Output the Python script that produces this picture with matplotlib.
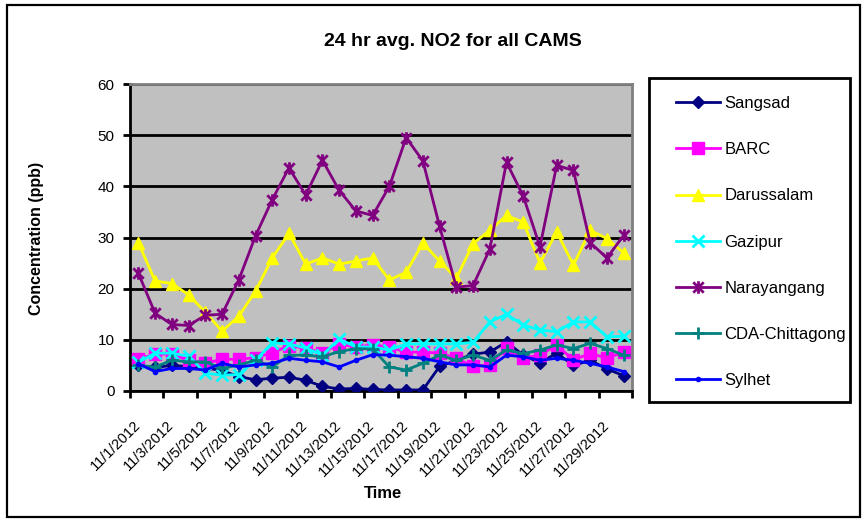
import numpy as np
import matplotlib
matplotlib.use("Agg")
import matplotlib.pyplot as plt
from matplotlib.path import Path
from matplotlib.patches import Rectangle

plt.rcParams['font.family'] = ['Liberation Sans', 'DejaVu Sans']

# ---------------- data ----------------
days = list(range(1, 31))
tick_labels = [f"11/{d}/2012" for d in range(1, 31, 2)]

sangsad = [5.0, 4.6, 5.0, 4.8, 4.5, 4.0, 2.8, 2.2, 2.5, 2.7, 2.1, 0.9, 0.4, 0.5, 0.3,
           0.2, 0.2, 0.2, 4.8, 6.0, 7.2, 7.6, 9.6, 7.0, 5.5, 7.4, 5.0, 6.0, 4.3, 3.0]
barc = [6.3, 7.2, 7.2, 6.0, 5.4, 6.2, 6.2, 6.5, 7.5, 8.8, 8.4, 7.4, 9.2, 8.6, 9.0,
        8.6, 7.6, 7.6, 7.4, 6.4, 4.8, 5.1, 8.4, 6.5, 7.0, 9.0, 6.0, 7.4, 6.4, 7.6]
darussalam = [29.0, 21.5, 21.0, 18.8, 15.4, 11.7, 14.6, 19.5, 26.0, 30.8, 24.8, 26.0, 24.8, 25.4, 26.0,
              21.7, 23.2, 28.9, 25.4, 22.0, 28.8, 31.4, 34.3, 33.0, 25.0, 31.1, 24.6, 31.4, 29.8, 27.0]
gazipur = [5.6, 7.4, 7.4, 6.8, 3.5, 3.1, 3.2, 6.0, 9.4, 9.2, 8.4, 7.0, 10.2, 8.6, 8.6,
           8.0, 9.2, 9.2, 9.2, 9.2, 9.5, 13.5, 15.0, 12.9, 11.9, 11.6, 13.5, 13.5, 10.6, 10.7]
narayangang = [23.0, 15.2, 13.0, 12.8, 14.8, 15.0, 21.7, 30.3, 37.4, 43.6, 38.3, 45.1, 39.2, 35.2, 34.3,
               40.0, 49.5, 45.0, 32.2, 20.3, 20.6, 27.7, 44.7, 38.1, 28.2, 44.1, 43.1, 29.0, 26.0, 30.4]
cda = [5.0, 4.7, 6.0, 5.7, 5.7, 4.4, 5.1, 6.0, 4.7, 7.0, 7.0, 6.7, 7.7, 8.3, 8.2,
       4.7, 4.1, 5.4, 7.0, 6.0, 7.0, 6.0, 8.0, 7.3, 8.0, 9.0, 8.3, 9.3, 8.3, 7.0]
sylhet = [5.3, 3.8, 4.4, 4.4, 4.1, 5.4, 4.7, 5.1, 5.4, 6.4, 6.0, 5.7, 4.7, 6.0, 7.1,
          7.0, 6.7, 6.4, 5.7, 5.1, 5.1, 4.7, 7.0, 6.7, 6.0, 6.4, 6.0, 5.4, 4.7, 3.8]

# Excel style "star" marker: x plus vertical bar
star = Path([(-1, -1), (1, 1), (-1, 1), (1, -1), (0, -1.2), (0, 1.2)],
            [Path.MOVETO, Path.LINETO, Path.MOVETO, Path.LINETO, Path.MOVETO, Path.LINETO])

series = [
    ("Sangsad", sangsad, "#000080", "D", 6.5),
    ("BARC", barc, "#FF00FF", "s", 8),
    ("Darussalam", darussalam, "#FFFF00", "^", 9),
    ("Gazipur", gazipur, "#00FFFF", "x", 8),
    ("Narayangang", narayangang, "#800080", star, 9),
    ("CDA-Chittagong", cda, "#008080", "+", 9),
    ("Sylhet", sylhet, "#0000FF", "o", 3),
]

# ---------------- figure ----------------
fig = plt.figure(figsize=(8.63, 5.19), dpi=100)
fig.patches.append(Rectangle((7 / 863, 2 / 519), 853 / 863, 512 / 519, transform=fig.transFigure,
                             fill=False, edgecolor='black', linewidth=1.6))

ax = fig.add_axes([130 / 863, 1 - 391 / 519, 502 / 863, 307 / 519])
ax.set_facecolor('#C0C0C0')

handles = []
for name, vals, col, mk, ms in series:
    h, = ax.plot(days, vals, color=col, linewidth=2, marker=mk, markersize=ms,
                 markeredgewidth=2 if mk in ("x", "+") or mk is star else 1,
                 markerfacecolor=col, markeredgecolor=col, label=name, zorder=3)
    handles.append(h)

ax.set_xlim(0.5, 30.5)
ax.set_ylim(0, 60)
ax.set_yticks(range(0, 61, 10))
ax.yaxis.grid(True, color='black', linewidth=2)
ax.set_axisbelow(True)

ax.set_xticks(np.arange(0.5, 31, 2))
ax.set_xticklabels([])
ax.set_xticks(np.arange(1, 31, 2), minor=True)
ax.set_xticklabels(tick_labels, minor=True, rotation=45, ha='right', va='center',
                   rotation_mode='anchor', fontsize=10.5)
ax.tick_params(axis='x', which='minor', length=0, pad=23)
ax.tick_params(axis='x', which='major', direction='out', length=5, width=2)
ax.tick_params(axis='y', direction='out', length=5, width=2, labelsize=11, pad=6)

for s in ('left', 'bottom'):
    ax.spines[s].set_color('black')
    ax.spines[s].set_linewidth(2)
for s in ('top', 'right'):
    ax.spines[s].set_color('#808080')
    ax.spines[s].set_linewidth(2)

fig.text(453 / 863, 1 - 41 / 519, "24 hr avg. NO2 for all CAMS", ha='center', va='center',
         fontsize=14, fontweight='bold')
fig.text(36 / 863, 1 - 238 / 519, "Concentration (ppb)", ha='center', va='center',
         rotation=90, fontsize=11.5, fontweight='bold')
fig.text(383 / 863, 1 - 494 / 519, "Time", ha='center', va='center',
         fontsize=12, fontweight='bold')

# legend box
fig.patches.append(Rectangle((649 / 863, 1 - 402 / 519), 201 / 863, 324 / 519, transform=fig.transFigure,
                             fill=False, edgecolor='black', linewidth=2))
fig.legend(handles=handles, loc='upper left', bbox_to_anchor=(676 / 863, 1 - 96 / 519),
           frameon=False, fontsize=12, handlelength=2.65, handletextpad=0.25,
           labelspacing=1.87, borderpad=0, borderaxespad=0)

fig.savefig("out.png", dpi=100)
